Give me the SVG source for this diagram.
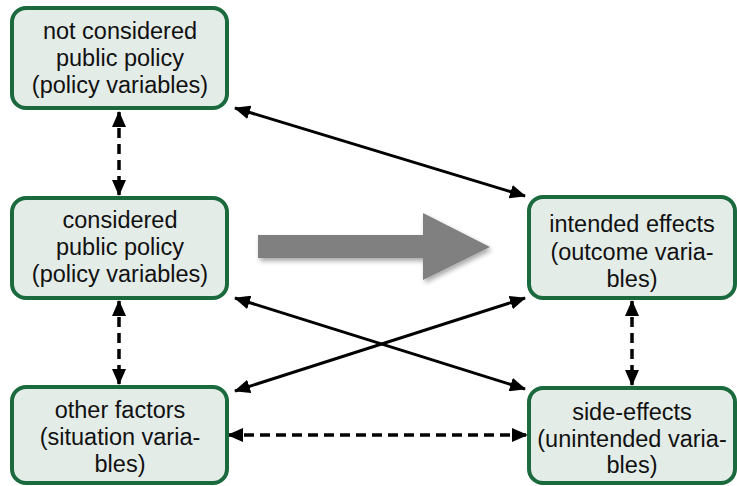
<svg xmlns="http://www.w3.org/2000/svg" width="737" height="486" viewBox="0 0 737 486">
  <style>
    .box { fill: #e4ece8; stroke: #1b6a3e; stroke-width: 4; }
    .lbl { font-family: "Liberation Sans", Arial, sans-serif; font-size: 23.5px; fill: #111; text-anchor: middle; }
    .solid { stroke: #000; stroke-width: 3; fill: none; marker-start: url(#head); marker-end: url(#head); }
    .dash { stroke: #000; stroke-width: 3.5; fill: none; stroke-dasharray: 10 6; marker-start: url(#head); marker-end: url(#head); }
  </style>
  <defs>
    <marker id="head" viewBox="0 0 16 14" refX="15" refY="7" markerWidth="16" markerHeight="14" markerUnits="userSpaceOnUse" orient="auto-start-reverse">
      <path d="M0,0 L16,7 L0,14 Z" fill="#000"/>
    </marker>
    <filter id="soft" x="-10%" y="-20%" width="130%" height="150%">
      <feGaussianBlur in="SourceAlpha" stdDeviation="2.5"/>
      <feOffset dx="2" dy="3" result="b"/>
      <feComponentTransfer><feFuncA type="linear" slope="0.35"/></feComponentTransfer>
      <feMerge><feMergeNode/><feMergeNode in="SourceGraphic"/></feMerge>
    </filter>
  </defs>

  <!-- connectors -->
  <g id="connectors">
    <line class="dash" x1="119" y1="112" x2="119" y2="195"/>
    <line class="dash" x1="119" y1="301" x2="119" y2="384"/>
    <line class="dash" x1="632" y1="301" x2="632" y2="385"/>
    <line class="dash" x1="228" y1="435" x2="527" y2="435"/>
    <line class="solid" x1="235" y1="108" x2="525" y2="196"/>
    <line class="solid" x1="235" y1="298" x2="525" y2="389"/>
    <line class="solid" x1="235" y1="391" x2="525" y2="298"/>
    <!-- broad causal arrow -->
    <path d="M258,235 L423,235 L423,213 L490,247 L423,280 L423,258 L258,258 Z" fill="#808080" filter="url(#soft)"/>
  </g>

  <g id="not-considered">
    <rect class="box" x="12" y="8" width="215" height="100" rx="14"/>
    <text class="lbl" x="120" y="39">not considered</text>
    <text class="lbl" x="120" y="66">public policy</text>
    <text class="lbl" x="120" y="93">(policy variables)</text>
  </g>

  <g id="considered">
    <rect class="box" x="12" y="198" width="215" height="100" rx="14"/>
    <text class="lbl" x="120" y="228">considered</text>
    <text class="lbl" x="120" y="255">public policy</text>
    <text class="lbl" x="120" y="282">(policy variables)</text>
  </g>

  <g id="other-factors">
    <rect class="box" x="12" y="387" width="215" height="96" rx="14"/>
    <text class="lbl" x="120" y="418">other factors</text>
    <text class="lbl" x="120" y="445">(situation varia-</text>
    <text class="lbl" x="120" y="472">bles)</text>
  </g>

  <g id="intended-effects">
    <rect class="box" x="529" y="197" width="206" height="101" rx="14"/>
    <text class="lbl" x="632" y="232">intended effects</text>
    <text class="lbl" x="632" y="260">(outcome varia-</text>
    <text class="lbl" x="632" y="287">bles)</text>
  </g>

  <g id="side-effects">
    <rect class="box" x="529" y="388" width="206" height="95" rx="14"/>
    <text class="lbl" x="632" y="420">side-effects</text>
    <text class="lbl" x="632" y="447">(unintended varia-</text>
    <text class="lbl" x="632" y="473">bles)</text>
  </g>
</svg>
